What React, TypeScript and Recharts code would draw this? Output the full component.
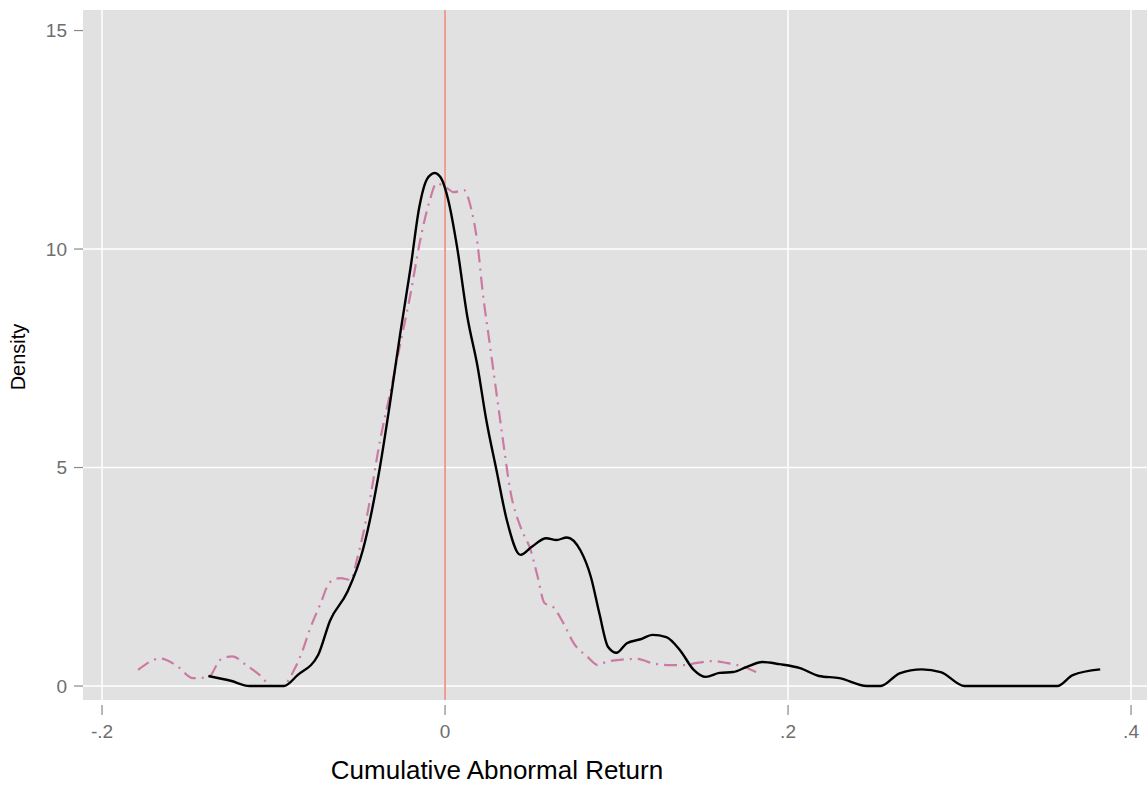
import { LineChart, Line, XAxis, YAxis, CartesianGrid, ReferenceLine } from "recharts";

// kernel density, solid black
const solidX = [
  -0.138, -0.125, -0.114, -0.094, -0.086, -0.074, -0.067, -0.057, -0.048, -0.038, -0.032, -0.026, -0.02,
  -0.015, -0.0105, -0.006, -0.002, 0.002, 0.007, 0.013, 0.019, 0.024, 0.03, 0.036, 0.044, 0.051, 0.059,
  0.065, 0.071, 0.079, 0.085, 0.09, 0.095, 0.1, 0.106, 0.114, 0.121, 0.129, 0.137, 0.145, 0.152, 0.16,
  0.168, 0.176, 0.185, 0.195, 0.207, 0.218, 0.23, 0.246, 0.254, 0.265, 0.278, 0.289, 0.303, 0.357, 0.366,
  0.382,
];
const solidY = [
  0.23, 0.12, 0, 0, 0.25, 0.71, 1.5, 2.15, 3.1, 5.0, 6.5, 8.1, 9.6, 10.96, 11.6, 11.74, 11.6, 11.1, 10.05,
  8.45, 7.3, 6.1, 4.94, 3.8, 3.0, 3.2, 3.38, 3.34, 3.4, 3.1, 2.5, 1.66, 0.9, 0.76, 0.98, 1.07, 1.17, 1.12,
  0.82, 0.37, 0.21, 0.3, 0.32, 0.44, 0.55, 0.5, 0.41, 0.23, 0.18, 0, 0, 0.29, 0.38, 0.32, 0, 0, 0.25, 0.38,
];

// second density, pink dash-dot
const dashX = [
  -0.179, -0.166, -0.156, -0.147, -0.138, -0.131, -0.124, -0.116, -0.108, -0.101, -0.095, -0.088, -0.083,
  -0.079, -0.073, -0.067, -0.061, -0.055, -0.051, -0.045, -0.038, -0.032, -0.026, -0.02, -0.015, -0.009,
  -0.005, 0.001, 0.005, 0.011, 0.015, 0.019, 0.022, 0.026, 0.03, 0.034, 0.038, 0.044, 0.05, 0.054, 0.058,
  0.063, 0.069, 0.075, 0.083, 0.089, 0.094, 0.102, 0.112, 0.121, 0.131, 0.139, 0.147, 0.156, 0.164, 0.174,
  0.184,
];
const dashY = [
  0.37, 0.63, 0.45, 0.18, 0.2, 0.6, 0.68, 0.48, 0.25, 0, 0, 0.37, 0.82, 1.28, 1.85, 2.38, 2.47, 2.43, 2.95,
  4.0, 5.6, 6.7, 7.85, 9.0, 10.1, 11.1, 11.5, 11.4, 11.3, 11.35, 10.96, 10.1, 9.0, 7.85, 6.7, 5.56, 4.48,
  3.64, 3.1, 2.5, 1.9, 1.81, 1.44, 0.98, 0.67, 0.48, 0.55, 0.6, 0.62, 0.52, 0.48, 0.48, 0.53, 0.57, 0.53,
  0.44, 0.27,
];

const xTicks = [-0.2, 0, 0.2, 0.4];
const yTicks = [0, 5, 10, 15];

const solid = solidX.map((x, i) => ({ x, y: solidY[i] }));
const dashed = dashX.map((x, i) => ({ x, y: dashY[i] }));

const font = "'Liberation Sans', Arial, sans-serif";
const tickGrey = "#6e6e6e";

// Stata style: -.2, 0, .2, .4
const fmt = (v: number) => (v === 0 ? "0" : String(v).replace("0.", "."));

const XTick = (props: any) => {
  const { x, y, payload } = props;
  return (
    <g>
      <line x1={x} x2={x} y1={y + 5} y2={y + 15} stroke="#888" strokeWidth={1.2} />
      <text x={x} y={y + 38} textAnchor="middle" fontSize={19} fill={tickGrey} fontFamily={font}>
        {fmt(payload.value)}
      </text>
    </g>
  );
};

const App = () => (
  <div style={{ position: "absolute", left: 0, top: 0, background: "#fff" }}>
    <LineChart width={1147} height={789} margin={{ top: 10, right: 0, bottom: 0, left: 0 }}>
      <CartesianGrid
        fill="#e1e1e1"
        stroke="#ffffff"
        strokeWidth={1.5}
        horizontalValues={[0, 5, 10]}
        verticalValues={xTicks}
      />
      <XAxis
        dataKey="x"
        type="number"
        domain={[-0.2111, 0.4093]}
        allowDataOverflow
        ticks={xTicks}
        height={89}
        axisLine={false}
        tickLine={false}
        tickSize={0}
        tickMargin={0}
        tick={<XTick />}
        label={{
          content: () => (
            <text x={497} y={779} textAnchor="middle" fontSize={26} fill="#000" fontFamily={font}>
              Cumulative Abnormal Return
            </text>
          ),
        }}
      />
      <YAxis
        type="number"
        domain={[-0.32, 15.47]}
        allowDataOverflow
        ticks={yTicks}
        width={83}
        axisLine={false}
        tickSize={9}
        tickMargin={7}
        tickLine={{ stroke: "#888", strokeWidth: 1.2 }}
        tick={{ fontSize: 19, fill: tickGrey, fontFamily: font }}
        label={{
          content: () => (
            <text
              x={25}
              y={357}
              transform="rotate(-90, 25, 357)"
              textAnchor="middle"
              fontSize={20}
              fill="#000"
              fontFamily={font}
            >
              Density
            </text>
          ),
        }}
      />
      <ReferenceLine x={0} stroke="#ec7f73" strokeWidth={1.5} />
      <Line
        data={dashed}
        dataKey="y"
        type="monotone"
        dot={false}
        stroke="#cc7aa3"
        strokeWidth={2.2}
        strokeDasharray="13 6 2 6"
        isAnimationActive={false}
      />
      <Line
        data={solid}
        dataKey="y"
        type="monotone"
        dot={false}
        stroke="#000"
        strokeWidth={2.4}
        isAnimationActive={false}
      />
    </LineChart>
  </div>
);

export default App;
